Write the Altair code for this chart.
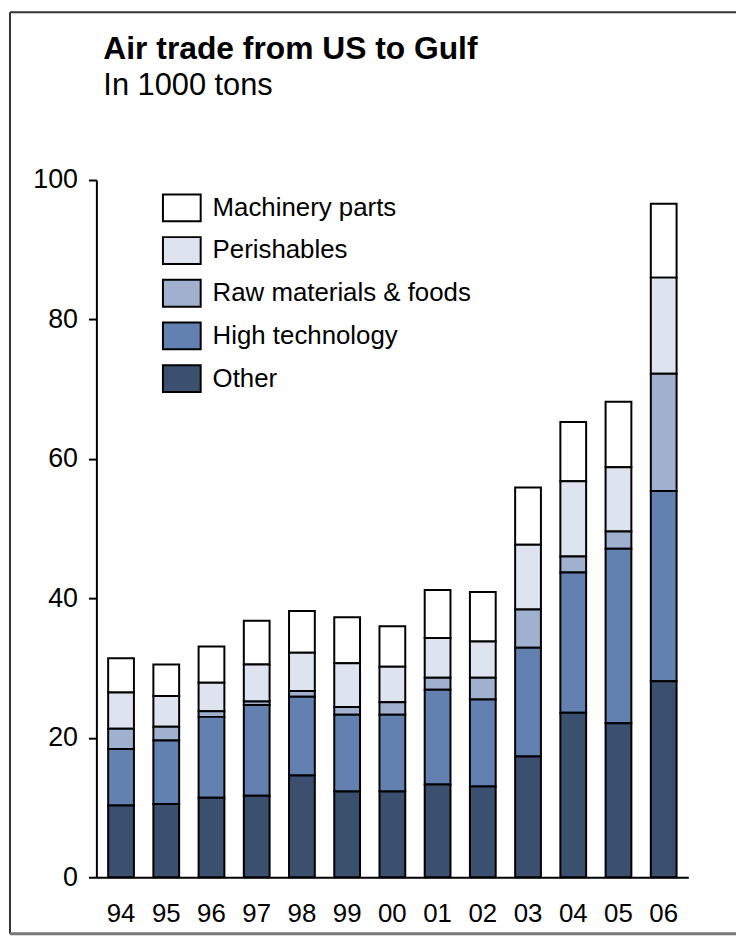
import altair as alt
import pandas as pd

years = ["94", "95", "96", "97", "98", "99", "00", "01", "02", "03", "04", "05", "06"]
other = [10.3, 10.5, 11.4, 11.7, 14.6, 12.3, 12.3, 13.3, 13.0, 17.3, 23.6, 22.1, 28.1]
high_tech = [8.1, 9.1, 11.6, 13.0, 11.3, 11.0, 11.0, 13.6, 12.5, 15.6, 20.1, 25.0, 27.3]
raw_foods = [2.9, 2.0, 0.8, 0.5, 0.8, 1.1, 1.8, 1.7, 3.1, 5.5, 2.3, 2.5, 16.8]
perishables = [5.2, 4.4, 4.1, 5.3, 5.5, 6.3, 5.1, 5.7, 5.2, 9.3, 10.8, 9.2, 13.8]
machinery = [4.9, 4.5, 5.2, 6.3, 6.0, 6.6, 5.8, 6.9, 7.1, 8.2, 8.5, 9.4, 10.6]

series_names = ["Machinery parts", "Perishables", "Raw materials & foods", "High technology", "Other"]
series_colors = ["#FFFFFF", "#DEE4EF", "#9FB1CE", "#6281B1", "#3B4F6F"]
y_ticks = [0, 20, 40, 60, 80, 100]

series_values = [machinery, perishables, raw_foods, high_tech, other]
rows = []
for idx, (name, vals) in enumerate(zip(series_names, series_values)):
    for yr, v in zip(years, vals):
        rows.append({"year": yr, "series": name, "value": v, "order": len(series_names) - idx})
df = pd.DataFrame(rows)

FONT = "Liberation Sans"

bars = alt.Chart(df).mark_bar(stroke="black", strokeWidth=2).encode(
    x=alt.X("year:N", sort=years,
            scale=alt.Scale(paddingInner=0.43, paddingOuter=0.26),
            axis=alt.Axis(title=None, labelAngle=0, ticks=False, labelFontSize=26,
                          labelPadding=24, domainColor="black", domainWidth=2,
                          labelColor="black", labelFont=FONT)),
    y=alt.Y("value:Q", stack="zero",
            scale=alt.Scale(domain=[0, 100], nice=False),
            axis=alt.Axis(title=None, values=y_ticks, grid=False, tickSize=8, tickWidth=2,
                          tickColor="black", domainColor="black", domainWidth=2,
                          labelFontSize=27, labelPadding=11, labelColor="black",
                          labelFont=FONT)),
    color=alt.Color("series:N",
                    scale=alt.Scale(domain=series_names, range=series_colors),
                    legend=alt.Legend(title=None, orient="none", legendX=66, legendY=8,
                                      symbolType="M-1,-0.71L1,-0.71L1,0.71L-1,0.71Z",
                                      symbolSize=1444, symbolStrokeColor="black",
                                      symbolStrokeWidth=2, symbolOpacity=1,
                                      labelFontSize=26, labelFont=FONT, labelColor="black",
                                      labelOffset=11, rowPadding=5, labelLimit=0)),
    order=alt.Order("order:Q"),
)

one = pd.DataFrame({"k": [0]})
frame_top = alt.Chart(one).mark_rule(color="#333333", strokeWidth=2).encode(
    x=alt.value(-87), x2=alt.value(644), y=alt.value(-169))
frame_left = alt.Chart(one).mark_rule(color="#333333", strokeWidth=2).encode(
    x=alt.value(-87), y=alt.value(-169), y2=alt.value(759))
frame_bottom = alt.Chart(one).mark_rule(color="#777777", strokeWidth=3).encode(
    x=alt.value(-87), x2=alt.value(644), y=alt.value(759))

chart = alt.layer(bars, frame_top, frame_left, frame_bottom).properties(
    width=596, height=702, padding=0,
    title=alt.TitleParams(text="Air trade from US to Gulf", subtitle="In 1000 tons",
                          anchor="start", frame="group", dx=7, font=FONT, fontSize=32,
                          fontWeight="bold", color="black", subtitleFont=FONT,
                          subtitleFontSize=31, subtitleColor="black", subtitlePadding=5,
                          offset=-91),
).configure_view(strokeWidth=0)

chart.save("out.html", embed_options={"renderer": "svg", "actions": False})
